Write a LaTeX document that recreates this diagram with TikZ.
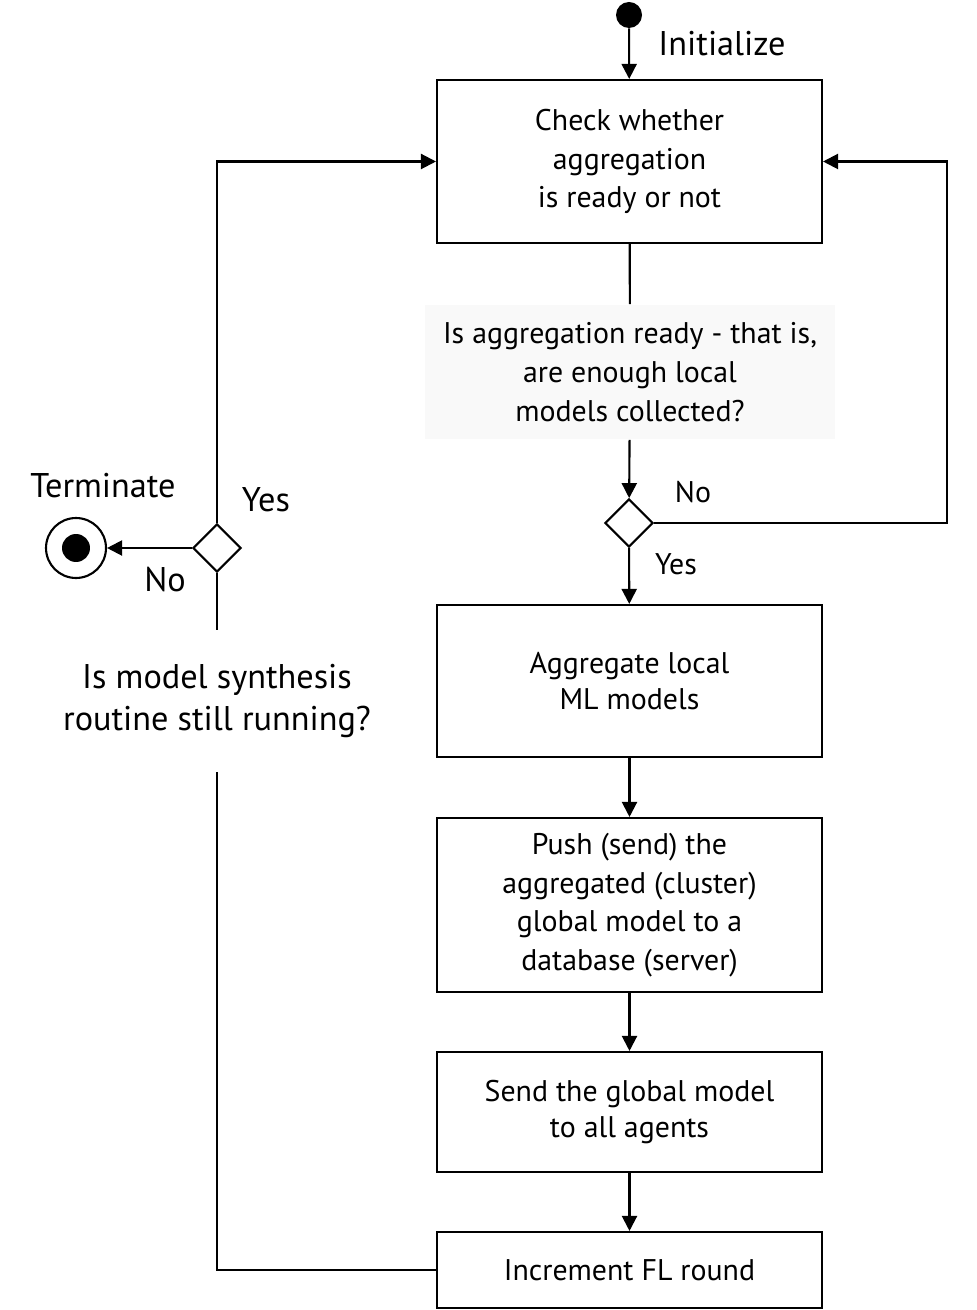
\documentclass[tikz,border=0pt]{standalone}
\usepackage{fontspec}
\setmainfont{PT Sans}
\usetikzlibrary{arrows.meta,shapes.geometric}
\definecolor{ask gray}{rgb}{0.975, 0.975, 0.975}

\tikzset{
	flow/.style = {line width=1.2pt, -{Triangle[length=0.3cm, width=0.3cm]}},
	link/.style = {line width=1.2pt},
	stepbox/.style = {draw, line width=1.2pt, minimum width=7.7cm, align=center,
		font=\fontsize{17}{22}\selectfont},
	tightbox/.style = {stepbox, font=\fontsize{17}{20.5}\selectfont},
	branch/.style = {draw, line width=1.2pt, diamond, minimum width=0.96cm,
		minimum height=0.96cm, inner sep=0pt},
	tag/.style = {font=\fontsize{17}{22}\selectfont},
	bigtag/.style = {font=\fontsize{19.5}{24}\selectfont}
}

\begin{document}
\begin{tikzpicture}[x=0.02cm, y=-0.02cm]
		\useasboundingbox (0, 0) rectangle (976, 1310);
		% start and end
		\node[circle, fill, minimum size=0.52cm, inner sep=0pt] (init) at (629, 15) {};
		\node[circle, draw, line width=1.2pt, minimum size=1.2cm, inner sep=0pt] (term) at (76, 548) {};
		\node[circle, fill, minimum size=0.56cm, inner sep=0pt] (termdot) at (76, 548) {};
		% steps
		\node[stepbox, minimum height=3.26cm] (check) at (629.5, 161.5)
			{Check whether\\aggregation\\is ready or not};
		\node[tag, fill=ask gray, minimum width=8.2cm, minimum height=2.7cm, align=center] (ask) at (630, 372)
			{Is aggregation ready - that is,\\are enough local\\models collected?};
		\node[branch] (ready) at (629, 523) {};
		\node[tightbox, minimum height=3.04cm] (aggr) at (629.5, 681)
			{Aggregate local\\ML models};
		\node[stepbox, minimum height=3.48cm] (push) at (629.5, 905)
			{Push (send) the\\aggregated (cluster)\\global model to a\\database (server)};
		\node[tightbox, minimum height=2.4cm] (send) at (629.5, 1112)
			{Send the global model\\to all agents};
		\node[stepbox, minimum height=1.52cm] (incr) at (629.5, 1270)
			{Increment FL round};
		% left loop
		\node[bigtag, minimum height=2.84cm, inner sep=0pt, align=center] (running) at (217, 701)
			{Is model synthesis\\routine still running?};
		\node[branch] (still) at (217, 548) {};
		\coordinate (rloop) at (947, 523);
		% labels
		\node[bigtag] (tinit) at (722, 44) {Initialize};
		\node[bigtag] (tterm) at (103, 486) {Terminate};
		\node[tag] (tno) at (693, 492) {No};
		\node[tag] (tyes) at (676, 564) {Yes};
		\node[bigtag] (tyes2) at (266, 500) {Yes};
		\node[bigtag] (tno2) at (165, 580) {No};
		% connectors
		\draw[flow] (init) -- (check);
		\draw[link] (check) -- (ask);
		\draw[flow] (ask) -- (ready);
		\draw[flow] (ready.east) -- (rloop) |- (check.east);
		\draw[flow] (ready) -- (aggr);
		\draw[flow] (aggr) -- (push);
		\draw[flow] (push) -- (send);
		\draw[flow] (send) -- (incr);
		\draw[link] (incr.west) -| (running.south);
		\draw[link] (running.north) -- (still.south);
		\draw[flow] (still.north) |- (check.west);
		\draw[flow] (still.west) -- (term);
	\end{tikzpicture}
\end{document}
